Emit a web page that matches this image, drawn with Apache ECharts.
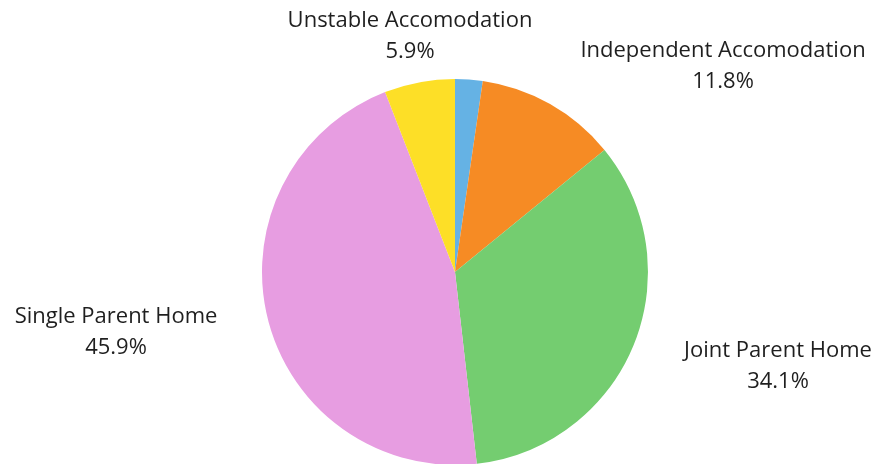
<!DOCTYPE html>
<html>
<head>
<meta charset="utf-8">
<script src="https://cdn.jsdelivr.net/npm/echarts@6/dist/echarts.min.js"></script>
<style>html,body{margin:0;padding:0;background:#fff;}#chart{width:883px;height:464px;}</style>
</head>
<body>
<div id="chart"></div>
<script>
var categories = ['Other', 'Independent Accomodation', 'Joint Parent Home', 'Single Parent Home', 'Unstable Accomodation'];
var values = [2.3, 11.8, 34.1, 45.9, 5.9];
var showLabel = [false, true, true, true, true];

var colors = ['#65B2E4', '#F68B24', '#74CD70', '#E79DE1', '#FDDF27'];
var labelAnchors = [[0, 0], [723, 66], [778, 366], [116, 332], [410, 36]];

var chart = echarts.init(document.getElementById('chart'));
var data = categories.map(function (c, i) {
  return {
    name: c,
    value: values[i],
    itemStyle: { color: colors[i] },
    label: { show: showLabel[i] },
    labelLine: { show: false }
  };
});
chart.setOption({
  animation: false,
  series: [{
    type: 'pie',
    center: [455, 272],
    radius: 193,
    startAngle: 90,
    clockwise: true,
    data: data,
    itemStyle: { borderWidth: 0 },
    label: {
      show: true,
      position: 'outside',
      overflow: 'none',
      edgeDistance: 0,
      formatter: function (p) { return '{a|' + p.name + '}\n{a|' + p.value.toFixed(1) + '%}'; },
      rich: {
        a: { fontFamily: 'Open Sans', fontSize: 22, color: '#1f1f1f', lineHeight: 31, align: 'center' }
      }
    },
    labelLine: { show: false },
    labelLayout: function (p) {
      var a = labelAnchors[p.dataIndex];
      return { x: a[0], y: a[1], align: 'center', verticalAlign: 'middle' };
    }
  }]
});
</script>
</body>
</html>
